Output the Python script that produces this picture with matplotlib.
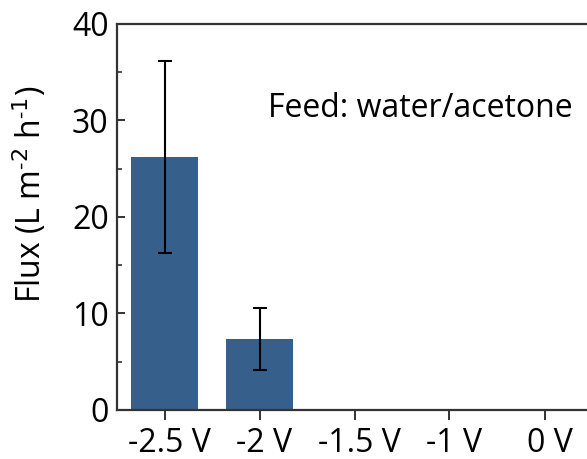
import matplotlib
matplotlib.use("Agg")
import matplotlib.pyplot as plt
import matplotlib.transforms as mtransforms
from matplotlib.ticker import MultipleLocator

# Flux data per applied voltage
voltages = ["-2.5 V", "-2 V", "-1.5 V", "-1 V", "0 V"]
flux = [26.2, 7.35, 0.0, 0.0, 0.0]
flux_err = [9.9, 3.2, 0.0, 0.0, 0.0]

plt.rcParams["font.family"] = ["Open Sans", "DejaVu Sans"]

W, H = 587, 459
fig = plt.figure(figsize=(W / 100, H / 100), dpi=100)
ax = fig.add_axes([117 / W, 49 / H, 475 / W, 386.3 / H])

x = list(range(len(voltages)))
bar_x = [xi for xi, v in zip(x, flux) if v > 0]
bar_v = [v for v in flux if v > 0]
bar_e = [e for v, e in zip(flux, flux_err) if v > 0]
ax.bar(bar_x, bar_v, width=0.7, color="#36608b", edgecolor="none", zorder=2)
ax.errorbar(bar_x, bar_v, yerr=bar_e, fmt="none", ecolor="black",
            elinewidth=1.5, capsize=4.8, capthick=1.5, zorder=3)

ax.set_xlim(-0.5, 4.5)
ax.set_ylim(0, 40)
ax.set_xticks(x)
ax.set_xticklabels(voltages)
ax.yaxis.set_major_locator(MultipleLocator(10))
ax.yaxis.set_minor_locator(MultipleLocator(5))

for s in ax.spines.values():
    s.set_linewidth(1.6)
    s.set_color("#333333")

FS = 23
ax.tick_params(axis="y", which="major", direction="in", length=6, width=1.4,
               color="#333333", labelsize=FS, pad=6)
ax.tick_params(axis="y", which="minor", direction="in", length=3.5, width=1.2,
               color="#333333")
ax.tick_params(axis="x", which="major", direction="out", length=7, width=1.4,
               color="#333333", labelsize=FS, pad=5)

# nudge the category labels slightly to the right
shift = mtransforms.ScaledTranslation(5 / 100, 0, fig.dpi_scale_trans)
for lbl in ax.get_xticklabels():
    lbl.set_transform(lbl.get_transform() + shift)

ax.set_ylabel("Flux (L m$^{\\mathregular{\u2010}2}$ h$^{\\mathregular{\u2010}1}$)", fontsize=FS)
ax.yaxis.label.set_va("center")
ax.yaxis.set_label_coords(-0.183, 0.557)

ax.text(0.318, 0.78, "Feed: water/acetone", transform=ax.transAxes,
        fontsize=FS, ha="left", va="center")

fig.savefig("out.png", dpi=100)
